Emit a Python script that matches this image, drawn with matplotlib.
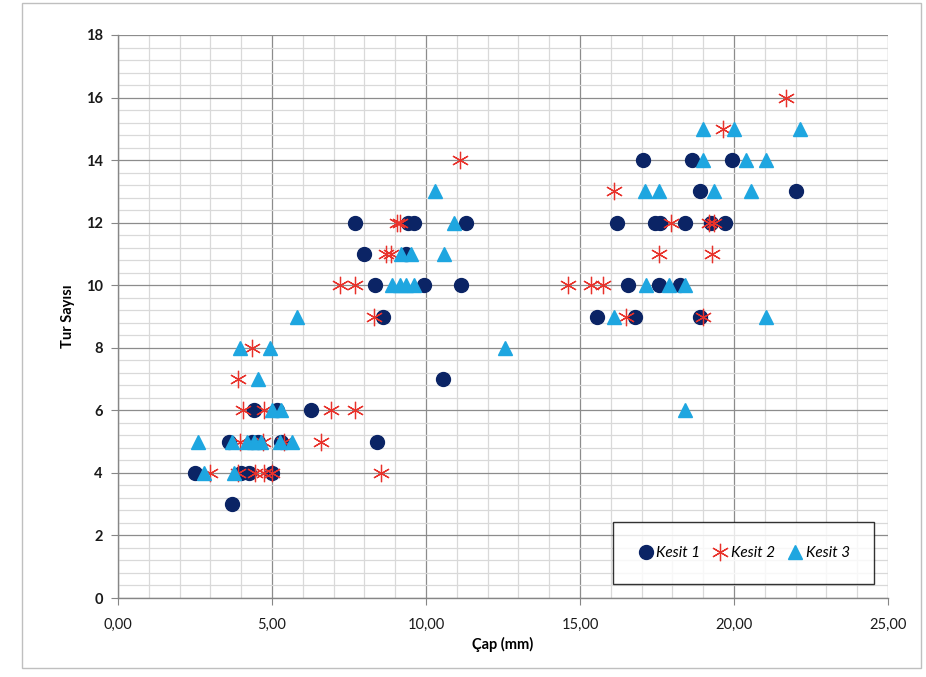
import matplotlib
matplotlib.use("Agg")
import matplotlib.pyplot as plt
from matplotlib.ticker import MultipleLocator, FuncFormatter
from matplotlib.patches import Rectangle

plt.rcParams["font.family"] = ["Lato", "DejaVu Sans"]

# Kesit 1 (daire)
k1_cap = [3.7,
          2.5, 4.0, 4.25, 5.0,
          3.6, 4.35, 4.55, 5.3, 8.4,
          4.4, 5.15, 6.25,
          10.55,
          8.6, 15.55, 16.8, 18.9,
          8.35, 9.95, 11.15, 16.55, 17.55, 18.25,
          8.0, 9.35,
          7.7, 9.4, 9.6, 11.3, 16.2, 17.45, 17.6, 18.4, 19.25, 19.7,
          18.9, 22.0,
          17.05, 18.65, 19.95]
k1_tur = [3,
          4, 4, 4, 4,
          5, 5, 5, 5, 5,
          6, 6, 6,
          7,
          9, 9, 9, 9,
          10, 10, 10, 10, 10, 10,
          11, 11,
          12, 12, 12, 12, 12, 12, 12, 12, 12, 12,
          13, 13,
          14, 14, 14]

# Kesit 2 (yildiz)
k2_cap = [3.0, 3.9, 4.45, 4.75, 5.0, 8.55,
          3.95, 4.7, 5.4, 6.6,
          4.05, 4.75, 6.9, 7.7,
          3.9,
          4.35,
          8.3, 16.5, 19.0,
          7.2, 7.7, 14.6, 15.35, 15.75,
          8.7, 8.85, 17.55, 19.3,
          9.05, 9.15, 17.95, 19.2, 19.35,
          16.1,
          11.1,
          19.65,
          21.7]
k2_tur = [4, 4, 4, 4, 4, 4,
          5, 5, 5, 5,
          6, 6, 6, 6,
          7,
          8,
          9, 9, 9,
          10, 10, 10, 10, 10,
          11, 11, 11, 11,
          12, 12, 12, 12, 12,
          13,
          14,
          15,
          16]

# Kesit 3 (ucgen)
k3_cap = [2.8, 3.75,
          2.6, 3.7, 4.2, 4.4, 4.65, 5.25, 5.65,
          5.0, 5.3, 18.4,
          4.55,
          3.95, 4.95, 12.55,
          5.8, 16.1, 21.05,
          8.9, 9.15, 9.35, 9.6, 17.15, 17.9, 18.4,
          9.2, 9.5, 10.6,
          10.9,
          10.3, 17.1, 17.55, 19.35, 20.55,
          19.0, 20.4, 21.05,
          19.0, 20.0, 22.15]
k3_tur = [4, 4,
          5, 5, 5, 5, 5, 5, 5,
          6, 6, 6,
          7,
          8, 8, 8,
          9, 9, 9,
          10, 10, 10, 10, 10, 10, 10,
          11, 11, 11,
          12,
          13, 13, 13, 13, 13,
          14, 14, 14,
          15, 15, 15]

fig = plt.figure(figsize=(9.26, 6.77), dpi=100)
ax = fig.add_axes([118 / 926, 79 / 677, 770 / 926, 563 / 677])

# cerceve (grafik alani)
fig.patches.append(Rectangle((22 / 926, 9 / 677), 899 / 926, 665 / 677,
                             transform=fig.transFigure, fill=False,
                             edgecolor="#bfbfbf", lw=1.0))

ax.plot(k1_cap, k1_tur, "o", ms=10, color="#0b2465", mec="#0b2465",
        label="Kesit 1", zorder=3)
ax.plot(k2_cap, k2_tur, ls="none", marker=(6, 2, 0), ms=12.5, mew=0.9,
        color="#e8322b", label="Kesit 2", zorder=4)
ax.plot(k3_cap, k3_tur, "^", ms=10.5, color="#1ea6e0", mec="#1ea6e0",
        label="Kesit 3", zorder=5)

ax.set_xlim(0, 25)
ax.set_ylim(0, 18)
ax.xaxis.set_major_locator(MultipleLocator(5))
ax.xaxis.set_minor_locator(MultipleLocator(1))
ax.yaxis.set_major_locator(MultipleLocator(2))
ax.yaxis.set_minor_locator(MultipleLocator(0.4))
ax.xaxis.set_major_formatter(FuncFormatter(lambda v, p: f"{v:.2f}".replace(".", ",")))

ax.grid(which="major", color="#8c8c8c", lw=0.9, zorder=0)
ax.grid(which="minor", color="#d9d9d9", lw=0.9, zorder=0)
ax.set_axisbelow(True)

for s in ("top", "right"):
    ax.spines[s].set_visible(False)
for s in ("left", "bottom"):
    ax.spines[s].set_color("#868686")
    ax.spines[s].set_linewidth(1.0)

ax.tick_params(which="major", direction="out", length=5, color="#868686",
               labelsize=10.5, labelcolor="#1a1a1a", pad=6)
ax.tick_params(which="minor", length=0)
for t in ax.get_yticklabels():
    t.set_fontweight("bold")
ax.tick_params(axis="x", pad=9)

ax.set_xlabel("Çap (mm)", fontsize=10.5, fontweight="bold", labelpad=4)
ax.set_ylabel("Tur Sayısı", fontsize=10.5, fontweight="bold", labelpad=8)

leg = ax.legend(loc="center", bbox_to_anchor=(0.812, 0.08), ncol=3,
                frameon=True, fancybox=False, borderpad=1.55,
                handletextpad=0.1, columnspacing=0.7, handlelength=1.2,
                prop={"style": "italic", "size": 11})
leg.get_frame().set_edgecolor("black")
leg.get_frame().set_linewidth(1.0)

fig.savefig("out.png", dpi=100)
